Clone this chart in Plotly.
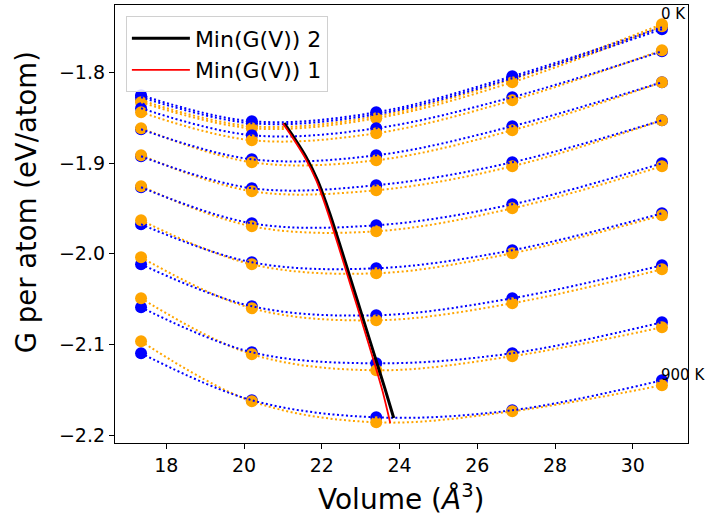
import plotly.graph_objects as go

# ---------------- data ----------------
volumes = [17.35, 20.2, 23.4, 26.9, 30.75]
temperature_labels = ["0 K", "100 K", "200 K", "300 K", "400 K",
                      "500 K", "600 K", "700 K", "800 K", "900 K"]

# set 2 (blue points / fits)
g2_0K = [-1.8253, -1.8540, -1.8441, -1.8044, -1.7504]
g2_100K = [-1.8275, -1.8562, -1.8463, -1.8066, -1.7526]
g2_200K = [-1.8397, -1.8694, -1.8617, -1.8275, -1.7769]
g2_300K = [-1.8628, -1.8959, -1.8915, -1.8595, -1.8110]
g2_400K = [-1.8926, -1.9278, -1.9245, -1.8992, -1.8529]
g2_500K = [-1.9267, -1.9664, -1.9686, -1.9455, -1.9003]
g2_600K = [-1.9675, -2.0094, -2.0160, -1.9961, -1.9554]
g2_700K = [-2.0116, -2.0578, -2.0678, -2.0490, -2.0127]
g2_800K = [-2.0590, -2.1085, -2.1207, -2.1096, -2.0755]
g2_900K = [-2.1096, -2.1614, -2.1802, -2.1724, -2.1394]

# set 1 (orange points / fits)
g1_0K = [-1.8309, -1.8595, -1.8485, -1.8077, -1.7471]
g1_100K = [-1.8331, -1.8617, -1.8507, -1.8110, -1.7493]
g1_200K = [-1.8441, -1.8749, -1.8672, -1.8309, -1.7758]
g1_300K = [-1.8617, -1.8992, -1.8970, -1.8639, -1.8110]
g1_400K = [-1.8915, -1.9311, -1.9300, -1.9036, -1.8529]
g1_500K = [-1.9256, -1.9697, -1.9752, -1.9499, -1.9036]
g1_600K = [-1.9631, -2.0116, -2.0215, -1.9994, -1.9576]
g1_700K = [-2.0039, -2.0601, -2.0733, -2.0545, -2.0171]
g1_800K = [-2.0490, -2.1107, -2.1284, -2.1129, -2.0810]
g1_900K = [-2.0964, -2.1625, -2.1857, -2.1736, -2.1449]

# minimum of G(V) curves
min2_volume = [21.03, 21.30, 21.59, 21.89, 22.20, 22.50, 22.80, 23.10, 23.40, 23.62, 23.85]
min2_g = [-1.8560, -1.8730, -1.8930, -1.9190, -1.9550, -1.9950, -2.0360, -2.0770, -2.1180, -2.1480, -2.1810]
min1_volume = [21.00, 21.27, 21.56, 21.86, 22.16, 22.46, 22.76, 23.06, 23.35, 23.56, 23.76]
min1_g = [-1.8565, -1.8735, -1.8935, -1.9195, -1.9555, -1.9960, -2.0375, -2.0790, -2.1200, -2.1510, -2.1864]

y_tick_values = [-2.2, -2.1, -2.0, -1.9, -1.8]
y_tick_labels = ["\u22122.2", "\u22122.1", "\u22122.0", "\u22121.9", "\u22121.8"]
x_tick_values = [18, 20, 22, 24, 26, 28, 30]
x_tick_labels = ["18", "20", "22", "24", "26", "28", "30"]

x_title = "Volume (<i>Å</i><sup>3</sup>)"
y_title = "G per atom (eV/atom)"

set2 = [g2_0K, g2_100K, g2_200K, g2_300K, g2_400K, g2_500K, g2_600K, g2_700K, g2_800K, g2_900K]
set1 = [g1_0K, g1_100K, g1_200K, g1_300K, g1_400K, g1_500K, g1_600K, g1_700K, g1_800K, g1_900K]

BLUE = "#0000ff"
ORANGE = "#ffa500"
FONT = "DejaVu Sans"

fig = go.Figure()

for g2, g1 in zip(set2, set1):
    fig.add_trace(go.Scatter(x=volumes, y=g2, mode="markers",
                             marker=dict(color=BLUE, size=12, line=dict(width=0)),
                             showlegend=False, hoverinfo="skip"))
    fig.add_trace(go.Scatter(x=volumes, y=g1, mode="markers",
                             marker=dict(color=ORANGE, size=12, line=dict(width=0)),
                             showlegend=False, hoverinfo="skip"))
for g2, g1 in zip(set2, set1):
    fig.add_trace(go.Scatter(x=volumes, y=g1, mode="lines",
                             line=dict(color=ORANGE, width=2, dash="2px,2.5px", shape="spline"),
                             showlegend=False, hoverinfo="skip"))
    fig.add_trace(go.Scatter(x=volumes, y=g2, mode="lines",
                             line=dict(color=BLUE, width=2, dash="2px,2.5px", shape="spline"),
                             showlegend=False, hoverinfo="skip"))

fig.add_trace(go.Scatter(x=min2_volume, y=min2_g, mode="lines", name="Min(G(V)) 2",
                         line=dict(color="black", width=3, shape="spline", smoothing=0.8)))
fig.add_trace(go.Scatter(x=min1_volume, y=min1_g, mode="lines", name="Min(G(V)) 1",
                         line=dict(color="red", width=1.8, shape="spline", smoothing=0.8)))

# temperature labels next to the last point of the first and last curve
fig.add_annotation(x=volumes[-1], y=g2_0K[-1], text=temperature_labels[0],
                   xanchor="left", yanchor="middle", showarrow=False, yshift=13, xshift=-3,
                   font=dict(family=FONT, size=15, color="black"))
fig.add_annotation(x=volumes[-1], y=g2_900K[-1], text=temperature_labels[-1],
                   xanchor="left", yanchor="middle", showarrow=False, yshift=5, xshift=-3,
                   font=dict(family=FONT, size=15, color="black"))

axis_common = dict(showline=True, linecolor="black", linewidth=1.2, mirror=True,
                   ticks="outside", ticklen=5, tickwidth=1.2, tickcolor="black",
                   showgrid=False, zeroline=False,
                   tickfont=dict(family=FONT, size=19, color="black"))

fig.update_xaxes(range=[16.68, 31.42], tickvals=x_tick_values, ticktext=x_tick_labels,
                 **axis_common)
fig.update_yaxes(range=[-2.2085, -1.7259], tickvals=y_tick_values, ticktext=y_tick_labels,
                 **axis_common)

# axis titles as paper-positioned annotations
fig.add_annotation(xref="paper", yref="paper", x=0.5, y=-0.124, text=x_title,
                   xanchor="center", yanchor="middle", showarrow=False,
                   font=dict(family=FONT, size=28, color="black"))
fig.add_annotation(xref="paper", yref="paper", x=-0.155, y=0.55, text=y_title,
                   textangle=-90, xanchor="center", yanchor="middle", showarrow=False,
                   font=dict(family=FONT, size=27.5, color="black"))

fig.update_layout(
    width=708, height=517,
    margin=dict(l=115, r=20, t=5, b=74, autoexpand=False),
    plot_bgcolor="white", paper_bgcolor="white",
    font=dict(family=FONT, color="black"),
    showlegend=True,
    legend=dict(x=0.019, y=0.974, xanchor="left", yanchor="top",
                bgcolor="rgba(255,255,255,0.85)", bordercolor="#d0d0d0", borderwidth=1,
                font=dict(family=FONT, size=22, color="black"),
                itemwidth=58, tracegroupgap=0),
)

fig.write_html("out.html", config={"displayModeBar": False},
               post_script="document.body.style.margin='0px';document.body.style.overflow='hidden';")
